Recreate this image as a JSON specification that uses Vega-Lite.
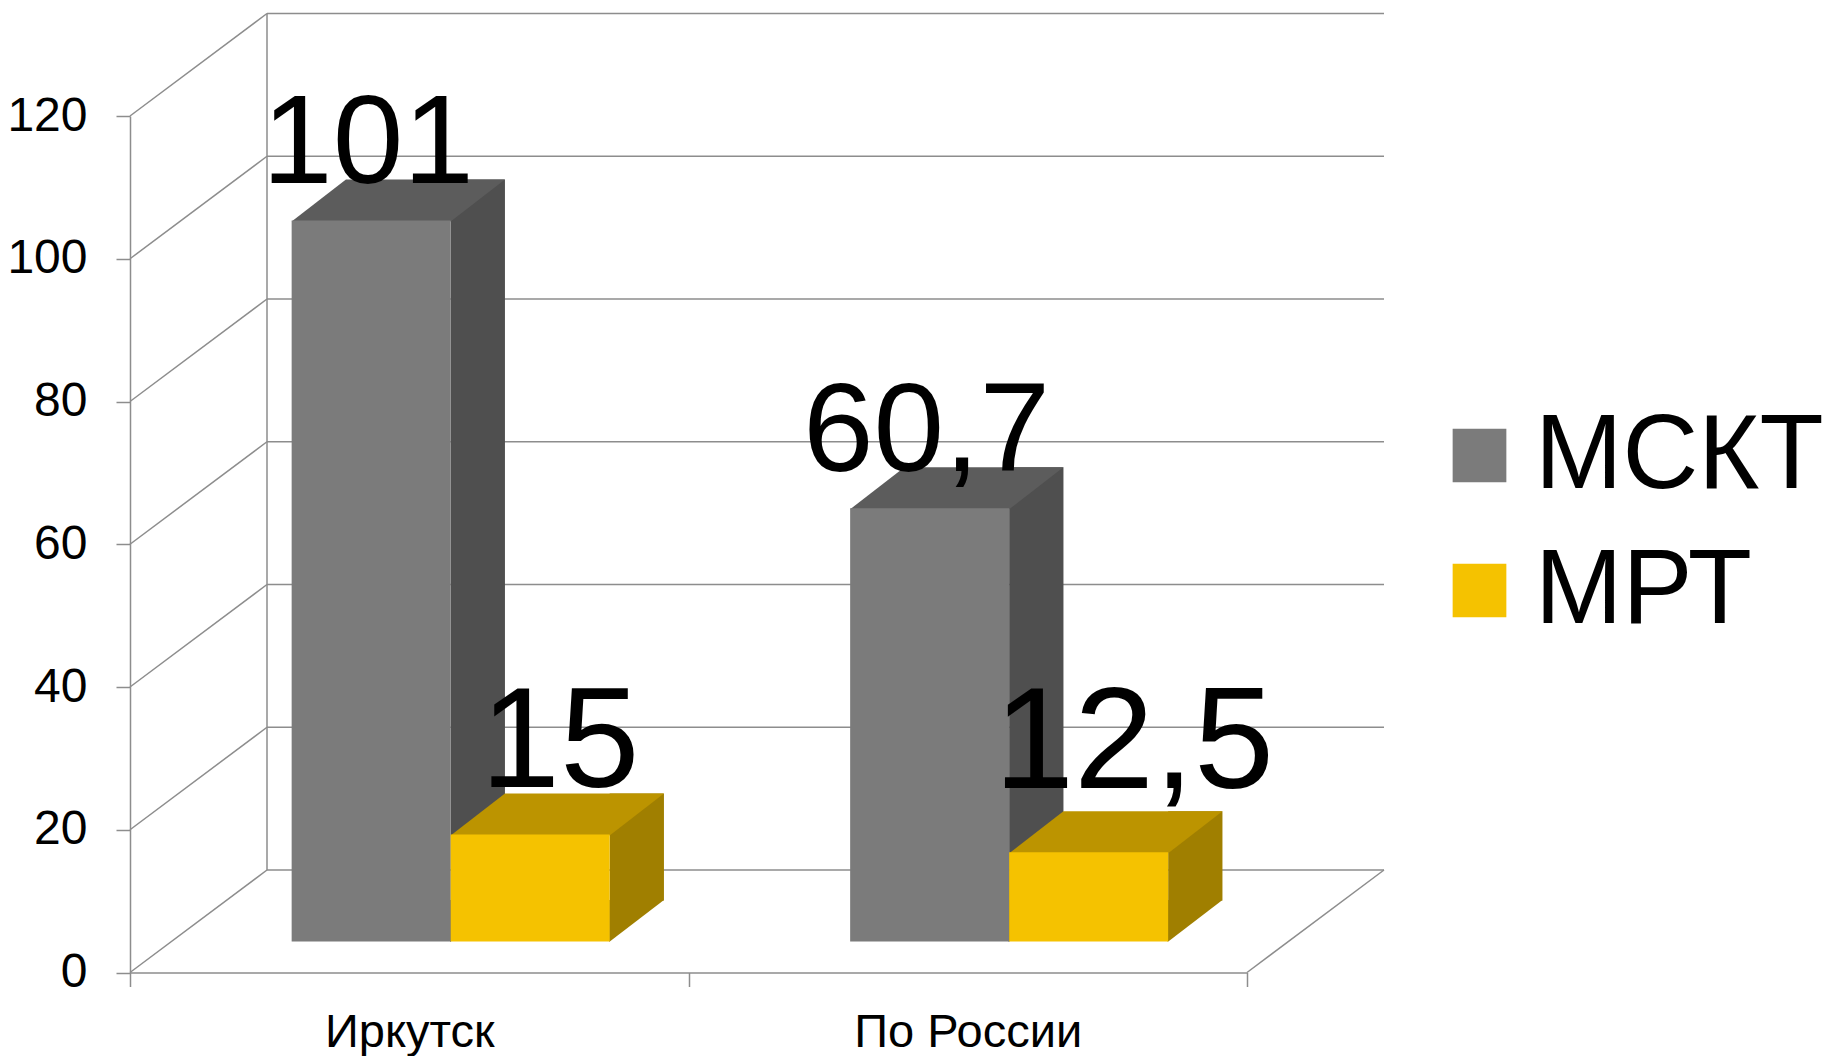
{
  "$schema": "https://vega.github.io/schema/vega-lite/v6.json",
  "width": 1117,
  "height": 856.5,
  "autosize": {"type": "none"},
  "padding": {"left": 130, "top": 116, "right": 582, "bottom": 83.5},
  "background": "white",
  "config": {
    "view": {"stroke": null},
    "font": "Liberation Sans",
    "locale": {"number": {"decimal": ",", "thousands": " ", "grouping": [3], "currency": ["", ""]}},
    "axisX": {"labelAngle": 0, "tickBand": "extent", "tickSize": 14, "tickWidth": 1.5, "tickColor": "#8d8d8d", "domainColor": "#8d8d8d", "domainWidth": 1.5, "labelFontSize": 47, "labelColor": "#000000", "labelPadding": 23, "labelLimit": 600, "grid": false, "labelFont": "Liberation Sans"},
    "axisY": {"tickSize": 14, "tickWidth": 1.5, "tickColor": "#8d8d8d", "domainColor": "#8d8d8d", "domainWidth": 1.5, "labelFontSize": 48, "labelColor": "#000000", "labelPadding": 29, "grid": false, "labelFont": "Liberation Sans"}
  },
  "datasets": {
    "bars": [
      {"city": "Иркутск", "series": "МСКТ", "value": 101},
      {"city": "Иркутск", "series": "МРТ", "value": 15},
      {"city": "По России", "series": "МСКТ", "value": 60.7},
      {"city": "По России", "series": "МРТ", "value": 12.5}
    ],
    "grid": [{"v": 0}, {"v": 20}, {"v": 40}, {"v": 60}, {"v": 80}, {"v": 100}, {"v": 120}]
  },
  "layer": [
    {
      "data": {"name": "grid"},
      "mark": {"type": "rule", "color": "#8d8d8d", "strokeWidth": 1.5, "xOffset": 137, "x2Offset": 137, "yOffset": -102.5},
      "encoding": {
        "x": {"datum": "Иркутск", "type": "nominal", "bandPosition": 0, "scale": {"type": "band", "domain": ["Иркутск", "По России"], "paddingInner": 0, "paddingOuter": 0}, "axis": {"title": null}},
        "x2": {"datum": "По России", "bandPosition": 1},
        "y": {"field": "v", "type": "quantitative", "scale": {"domain": [0, 120], "nice": false, "zero": true}, "axis": {"title": null, "values": [0, 20, 40, 60, 80, 100, 120]}}
      }
    },
    {
      "data": {"name": "grid"},
      "mark": {"type": "rule", "color": "#8d8d8d", "strokeWidth": 1.5, "x2Offset": 137, "y2Offset": -102.5},
      "encoding": {
        "x": {"datum": "Иркутск", "type": "nominal", "bandPosition": 0},
        "x2": {"datum": "Иркутск", "bandPosition": 0},
        "y": {"field": "v", "type": "quantitative", "axis": {"title": null, "values": [0, 20, 40, 60, 80, 100, 120]}},
        "y2": {"field": "v"}
      }
    },
    {
      "data": {"values": [{}]},
      "mark": {"type": "rule", "color": "#8d8d8d", "strokeWidth": 1.5, "xOffset": 137, "yOffset": -102.5, "y2Offset": -102.5},
      "encoding": {
        "x": {"datum": "Иркутск", "type": "nominal", "bandPosition": 0},
        "y": {"datum": 0, "type": "quantitative"},
        "y2": {"datum": 120}
      }
    },
    {
      "data": {"values": [{}]},
      "mark": {"type": "rule", "color": "#8d8d8d", "strokeWidth": 1.5, "x2Offset": 137, "y2Offset": -102.5},
      "encoding": {
        "x": {"datum": "По России", "type": "nominal", "bandPosition": 1},
        "x2": {"datum": "По России", "bandPosition": 1},
        "y": {"datum": 0, "type": "quantitative"},
        "y2": {"datum": 0}
      }
    },
    {
      "data": {"name": "bars"},
      "transform": [{"filter": "datum.series === 'МСКТ'"}],
      "mark": {"type": "bar", "color": "#4f4f4f", "width": 54.3, "xOffset": 68.55, "yOffset": -72, "y2Offset": -72},
      "encoding": {
        "x": {"field": "city", "type": "nominal", "axis": {"title": null}},
        "y": {"field": "value", "type": "quantitative", "stack": null, "axis": {"title": null, "values": [0, 20, 40, 60, 80, 100, 120]}},
        "y2": {"datum": 0}
      }
    },
    {
      "data": {"name": "bars"},
      "transform": [{"filter": "datum.series === 'МСКТ'"}],
      "mark": {"type": "point", "shape": "M-0.5,0.5 L-0.5,-41.5 L54.3,-41.5 Z", "size": 4, "filled": true, "opacity": 1, "strokeWidth": 0, "color": "#4f4f4f", "xOffset": 41.4, "yOffset": -31},
      "encoding": {
        "x": {"field": "city", "type": "nominal", "axis": {"title": null}},
        "y": {"datum": 0, "type": "quantitative"}
      }
    },
    {
      "data": {"name": "bars"},
      "transform": [{"filter": "datum.series === 'МСКТ'"}],
      "mark": {"type": "point", "shape": "M0,1 L159,1 L213.3,-41 L54.3,-41 Z", "size": 4, "filled": true, "opacity": 1, "strokeWidth": 0, "color": "#5c5c5c", "xOffset": -117.6, "yOffset": -31},
      "encoding": {
        "x": {"field": "city", "type": "nominal", "axis": {"title": null}},
        "y": {"field": "value", "type": "quantitative", "axis": {"title": null, "values": [0, 20, 40, 60, 80, 100, 120]}}
      }
    },
    {
      "data": {"name": "bars"},
      "transform": [{"filter": "datum.series === 'МСКТ'"}],
      "mark": {"type": "bar", "width": 159, "xOffset": -38.1, "yOffset": -31, "y2Offset": -31},
      "encoding": {
        "x": {"field": "city", "type": "nominal", "axis": {"title": null}},
        "y": {"field": "value", "type": "quantitative", "stack": null, "axis": {"title": null, "values": [0, 20, 40, 60, 80, 100, 120]}},
        "y2": {"datum": 0},
        "color": {"field": "series", "type": "nominal", "scale": {"domain": ["МСКТ", "МРТ"], "range": ["#7b7b7b", "#f5c200"]}, "legend": {"orient": "none", "legendX": 1297, "legendY": 287, "title": null, "symbolType": "square", "symbolSize": 2884, "symbolStrokeWidth": 0, "symbolOpacity": 1, "labelFontSize": 105, "labelFont": "Liberation Sans", "labelColor": "#000000", "labelLimit": 800, "rowPadding": 29, "labelOffset": 3, "padding": 0}}
      }
    },
    {
      "data": {"name": "bars"},
      "transform": [{"filter": "datum.series === 'МРТ'"}],
      "mark": {"type": "bar", "color": "#a07f00", "width": 54.3, "xOffset": 227.55, "yOffset": -72, "y2Offset": -72},
      "encoding": {
        "x": {"field": "city", "type": "nominal", "axis": {"title": null}},
        "y": {"field": "value", "type": "quantitative", "stack": null, "axis": {"title": null, "values": [0, 20, 40, 60, 80, 100, 120]}},
        "y2": {"datum": 0}
      }
    },
    {
      "data": {"name": "bars"},
      "transform": [{"filter": "datum.series === 'МРТ'"}],
      "mark": {"type": "point", "shape": "M-0.5,0.5 L-0.5,-41.5 L54.3,-41.5 Z", "size": 4, "filled": true, "opacity": 1, "strokeWidth": 0, "color": "#a07f00", "xOffset": 200.4, "yOffset": -31},
      "encoding": {
        "x": {"field": "city", "type": "nominal", "axis": {"title": null}},
        "y": {"datum": 0, "type": "quantitative"}
      }
    },
    {
      "data": {"name": "bars"},
      "transform": [{"filter": "datum.series === 'МРТ'"}],
      "mark": {"type": "point", "shape": "M0,1 L159,1 L213.3,-41 L54.3,-41 Z", "size": 4, "filled": true, "opacity": 1, "strokeWidth": 0, "color": "#bc9400", "xOffset": 41.4, "yOffset": -31},
      "encoding": {
        "x": {"field": "city", "type": "nominal", "axis": {"title": null}},
        "y": {"field": "value", "type": "quantitative", "axis": {"title": null, "values": [0, 20, 40, 60, 80, 100, 120]}}
      }
    },
    {
      "data": {"name": "bars"},
      "transform": [{"filter": "datum.series === 'МРТ'"}],
      "mark": {"type": "bar", "width": 159, "xOffset": 120.9, "yOffset": -31, "y2Offset": -31},
      "encoding": {
        "x": {"field": "city", "type": "nominal", "axis": {"title": null}},
        "y": {"field": "value", "type": "quantitative", "stack": null, "axis": {"title": null, "values": [0, 20, 40, 60, 80, 100, 120]}},
        "y2": {"datum": 0},
        "color": {"field": "series", "type": "nominal", "scale": {"domain": ["МСКТ", "МРТ"], "range": ["#7b7b7b", "#f5c200"]}, "legend": {"orient": "none", "legendX": 1297, "legendY": 287, "title": null, "symbolType": "square", "symbolSize": 2884, "symbolStrokeWidth": 0, "symbolOpacity": 1, "labelFontSize": 105, "labelFont": "Liberation Sans", "labelColor": "#000000", "labelLimit": 800, "rowPadding": 29, "labelOffset": 3, "padding": 0}}
      }
    },
    {
      "data": {"name": "bars"},
      "transform": [{"filter": "datum.series === 'МСКТ'"}],
      "mark": {"type": "text", "fontSize": 127, "font": "Liberation Sans", "color": "#000000", "align": "center", "baseline": "alphabetic", "dx": -41.25, "dy": -68.3},
      "encoding": {
        "x": {"field": "city", "type": "nominal", "axis": {"title": null}},
        "y": {"field": "value", "type": "quantitative", "axis": {"title": null, "values": [0, 20, 40, 60, 80, 100, 120]}},
        "text": {"field": "value", "type": "quantitative", "format": "~g"}
      }
    },
    {
      "data": {"name": "bars"},
      "transform": [{"filter": "datum.series === 'МРТ' && datum.city === 'Иркутск'"}],
      "mark": {"type": "text", "fontSize": 143, "font": "Liberation Sans", "color": "#000000", "align": "center", "baseline": "alphabetic", "dx": 150.75, "dy": -78.15},
      "encoding": {
        "x": {"field": "city", "type": "nominal", "axis": {"title": null}},
        "y": {"field": "value", "type": "quantitative", "axis": {"title": null, "values": [0, 20, 40, 60, 80, 100, 120]}},
        "text": {"field": "value", "type": "quantitative", "format": "~g"}
      }
    },
    {
      "data": {"name": "bars"},
      "transform": [{"filter": "datum.series === 'МРТ' && datum.city === 'По России'"}],
      "mark": {"type": "text", "fontSize": 144, "font": "Liberation Sans", "color": "#000000", "align": "center", "baseline": "alphabetic", "dx": 166.25, "dy": -95},
      "encoding": {
        "x": {"field": "city", "type": "nominal", "axis": {"title": null}},
        "y": {"field": "value", "type": "quantitative", "axis": {"title": null, "values": [0, 20, 40, 60, 80, 100, 120]}},
        "text": {"field": "value", "type": "quantitative", "format": "~g"}
      }
    }
  ]
}
